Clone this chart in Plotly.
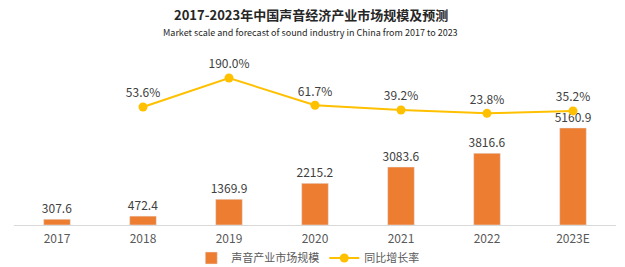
import plotly.graph_objects as go

years = ["2017", "2018", "2019", "2020", "2021", "2022", "2023E"]
market = [307.6, 472.4, 1369.9, 2215.2, 3083.6, 3816.6, 5160.9]
growth_years = ["2018", "2019", "2020", "2021", "2022", "2023E"]
growth = [53.6, 190.0, 61.7, 39.2, 23.8, 35.2]

FONT = "Noto Sans CJK SC"
H, T, B = 267, 40, 42
PH = H - T - B


def py(pix):
    return (H - B - pix) / PH


fig = go.Figure()
fig.add_trace(go.Bar(
    x=years, y=market, name="声音产业市场规模",
    marker=dict(color="#ED7D31"), width=0.31,
    text=[f"{v:.1f}" for v in market], textposition="outside", constraintext="none",
    textfont=dict(size=12, color="#404040", family=FONT), cliponaxis=False,
))
fig.add_trace(go.Scatter(
    x=growth_years, y=growth, name="同比增长率", yaxis="y2",
    mode="lines+markers+text",
    line=dict(color="#FFC000", width=2), marker=dict(color="#FFC000", size=9),
    text=[f"{v:.1f}%" for v in growth], textposition="top center",
    textfont=dict(size=12, color="#404040", family=FONT), cliponaxis=False,
))
fig.update_layout(
    width=625, height=H, margin=dict(l=14, r=9, t=T, b=B, autoexpand=False),
    paper_bgcolor="white", plot_bgcolor="white",
    font=dict(family=FONT, color="#595959", size=12),
    showlegend=True,
    legend=dict(orientation="h", x=0.488, xanchor="center", yref="container",
                y=(H - 258) / H, yanchor="middle", bgcolor="rgba(0,0,0,0)",
                font=dict(size=11, color="#595959"), itemwidth=30,
                tracegroupgap=0),
    xaxis=dict(type="category", showline=True, linecolor="#D9D9D9", linewidth=1,
               ticks="outside", ticklen=3, tickcolor="rgba(0,0,0,0)",
               showgrid=False, automargin=False,
               tickfont=dict(size=12, color="#595959")),
    yaxis=dict(range=[0, 9840], visible=False, showgrid=False),
    yaxis2=dict(range=[-502, 369], overlaying="y", visible=False, showgrid=False),
    annotations=[
        dict(text="<b>2017-2023年中国声音经济产业市场规模及预测</b>", x=0.493,
             y=py(14), xref="paper", yref="paper", yanchor="middle",
             showarrow=False, font=dict(size=13, color="#262626", family=FONT)),
        dict(text="Market scale and forecast of sound industry in China from 2017 to 2023",
             x=0.493, y=py(32), xref="paper", yref="paper", yanchor="middle",
             showarrow=False, font=dict(size=9, color="#262626", family=FONT)),
    ],
)
fig.write_html("out.html")
